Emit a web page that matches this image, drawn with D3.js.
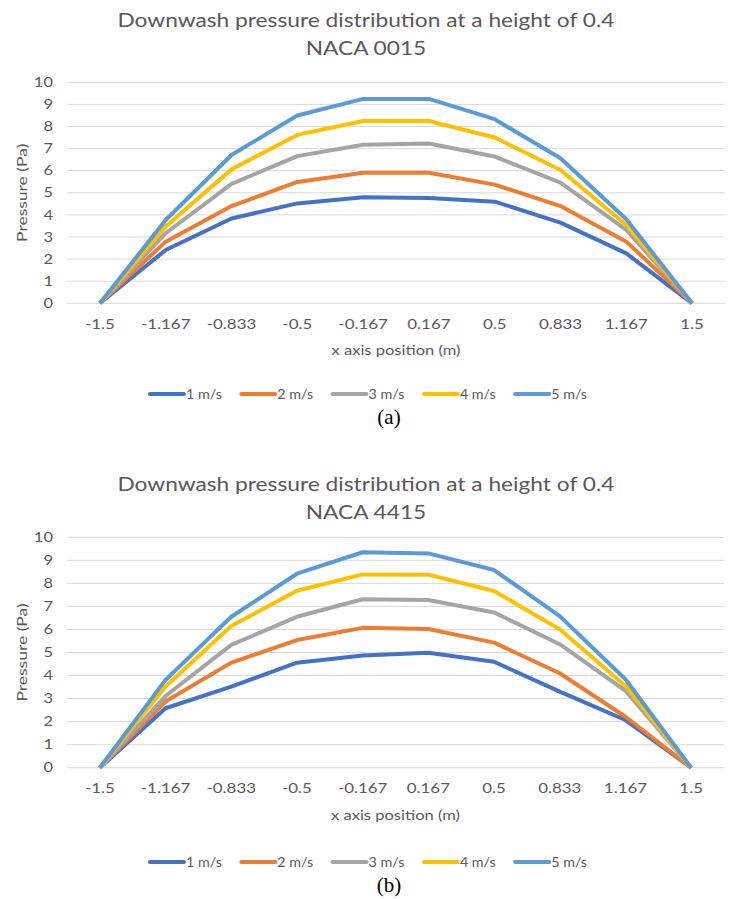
<!DOCTYPE html>
<html>
<head>
<meta charset="utf-8">
<script src="https://cdn.jsdelivr.net/npm/d3@7"></script>
<style>
  html, body { margin: 0; padding: 0; background: #fff; }
  svg { display: block; }
</style>
</head>
<body>
<svg id="chart" width="734" height="899"></svg>
<script>
const xLabels = ["-1.5", "-1.167", "-0.833", "-0.5", "-0.167", "0.167", "0.5", "0.833", "1.167", "1.5"];
const yTicks = [0, 1, 2, 3, 4, 5, 6, 7, 8, 9, 10];
const speedLabels = ["1 m/s", "2 m/s", "3 m/s", "4 m/s", "5 m/s"];
const speedColors = ["#4472C4", "#ED7D31", "#A5A5A5", "#FFC000", "#5B9BD5"];

// NACA 0015
const naca0015_1ms = [0, 2.41, 3.84, 4.52, 4.80, 4.76, 4.60, 3.65, 2.26, 0];
const naca0015_2ms = [0, 2.79, 4.40, 5.49, 5.91, 5.91, 5.37, 4.40, 2.79, 0];
const naca0015_3ms = [0, 3.17, 5.40, 6.66, 7.17, 7.23, 6.64, 5.46, 3.32, 0];
const naca0015_4ms = [0, 3.47, 6.06, 7.62, 8.25, 8.25, 7.50, 6.03, 3.54, 0];
const naca0015_5ms = [0, 3.77, 6.71, 8.50, 9.25, 9.25, 8.33, 6.56, 3.80, 0];

// NACA 4415
const naca4415_1ms = [0, 2.58, 3.52, 4.56, 4.87, 4.99, 4.60, 3.30, 2.07, 0];
const naca4415_2ms = [0, 2.87, 4.56, 5.54, 6.07, 6.02, 5.43, 4.10, 2.21, 0];
const naca4415_3ms = [0, 3.11, 5.33, 6.55, 7.31, 7.28, 6.74, 5.36, 3.34, 0];
const naca4415_4ms = [0, 3.52, 6.15, 7.68, 8.39, 8.38, 7.67, 6.01, 3.55, 0];
const naca4415_5ms = [0, 3.81, 6.55, 8.42, 9.35, 9.30, 8.58, 6.58, 3.84, 0];

const svg = d3.select("#chart");
const txtFont = "Lato, sans-serif";
const grey = "#595959";

// the figure's text is stretched sideways, so widen ours to match
function stretch(sel, k) {
  sel.each(function () {
    const len = this.getComputedTextLength();
    d3.select(this)
      .attr("textLength", len * k)
      .attr("lengthAdjust", "spacingAndGlyphs");
  });
}

function drawChart(cfg) {
  const g = svg.append("g");

  const x = d3.scaleBand()
    .domain(xLabels)
    .range([cfg.left, cfg.right])
    .padding(0);

  const y = d3.scaleLinear()
    .domain([0, 10])
    .range([cfg.bottom, cfg.top]);

  // title
  [["Downwash pressure distribution at a height of 0.4", 0], [cfg.subtitle, 28]].forEach(([t, dy]) => {
    g.append("text")
      .attr("x", cfg.titleX)
      .attr("y", cfg.titleY + dy)
      .attr("text-anchor", "middle")
      .attr("font-family", txtFont)
      .attr("font-size", 19.5)
      .attr("fill", grey)
      .text(t)
      .call(stretch, 1.165);
  });

  // gridlines
  g.append("g")
    .selectAll("line")
    .data(yTicks)
    .join("line")
    .attr("x1", cfg.left)
    .attr("x2", cfg.right)
    .attr("y1", d => y(d))
    .attr("y2", d => y(d))
    .attr("stroke", "#d9d9d9")
    .attr("stroke-width", 1);

  // y axis labels
  const yAxis = g.append("g")
    .attr("transform", `translate(${cfg.left - 14},0)`)
    .call(d3.axisLeft(y).tickValues(yTicks).tickSize(0).tickPadding(0));
  yAxis.select(".domain").remove();
  yAxis.selectAll("text")
    .attr("font-family", txtFont)
    .attr("font-size", 13)
    .attr("fill", grey)
    .call(stretch, 1.27);

  // x axis labels
  const xAxis = g.append("g")
    .attr("transform", `translate(0,${cfg.bottom + 16})`)
    .call(d3.axisBottom(x).tickSize(0).tickPadding(0));
  xAxis.select(".domain").remove();
  xAxis.selectAll("text")
    .attr("font-family", txtFont)
    .attr("font-size", 13)
    .attr("fill", grey)
    .call(stretch, 1.3);

  // axis titles
  g.append("text")
    .attr("x", (cfg.left + cfg.right) / 2)
    .attr("y", cfg.bottom + 52)
    .attr("text-anchor", "middle")
    .attr("font-family", txtFont)
    .attr("font-size", 14)
    .attr("fill", grey)
    .text("x axis position (m)")
    .call(stretch, 1.18);
  g.append("text")
    .attr("transform", `translate(27,${(cfg.top + cfg.bottom) / 2}) rotate(-90)`)
    .attr("text-anchor", "middle")
    .attr("font-family", txtFont)
    .attr("font-size", 14)
    .attr("fill", grey)
    .text("Pressure (Pa)")
    .call(stretch, 1.25);

  // lines
  const line = d3.line()
    .x((d, i) => x(xLabels[i]) + x.bandwidth() / 2)
    .y(d => y(d));

  cfg.series.forEach((s, i) => {
    g.append("path")
      .datum(s)
      .attr("fill", "none")
      .attr("stroke", speedColors[i])
      .attr("stroke-width", 4)
      .attr("stroke-linejoin", "round")
      .attr("d", line);
  });

  // legend
  const leg = g.append("g")
    .attr("transform", `translate(150,${cfg.legendY})`);
  speedLabels.forEach((lab, i) => {
    const item = leg.append("g").attr("transform", `translate(${i * 91.3},0)`);
    item.append("line")
      .attr("x1", 0)
      .attr("x2", 34)
      .attr("stroke", speedColors[i])
      .attr("stroke-width", 4)
      .attr("stroke-linecap", "round");
    item.append("text")
      .attr("x", 36)
      .attr("y", 4.5)
      .attr("font-family", txtFont)
      .attr("font-size", 13)
      .attr("fill", grey)
      .text(lab)
      .call(stretch, 1.1);
  });

  // panel label
  g.append("text")
    .attr("x", 389)
    .attr("y", cfg.labelY)
    .attr("text-anchor", "middle")
    .attr("font-family", "'Liberation Serif', 'Times New Roman', serif")
    .attr("font-size", 21)
    .attr("fill", "#000")
    .text(cfg.label);
}

drawChart({
  subtitle: "NACA 0015",
  series: [naca0015_1ms, naca0015_2ms, naca0015_3ms, naca0015_4ms, naca0015_5ms],
  titleX: 366, titleY: 27,
  left: 67, right: 725, top: 82.3, bottom: 303.3,
  legendY: 394, labelY: 424, label: "(a)"
});

drawChart({
  subtitle: "NACA 4415",
  series: [naca4415_1ms, naca4415_2ms, naca4415_3ms, naca4415_4ms, naca4415_5ms],
  titleX: 366, titleY: 491,
  left: 67, right: 724, top: 537.3, bottom: 767.7,
  legendY: 862, labelY: 892, label: "(b)"
});
</script>
</body>
</html>
